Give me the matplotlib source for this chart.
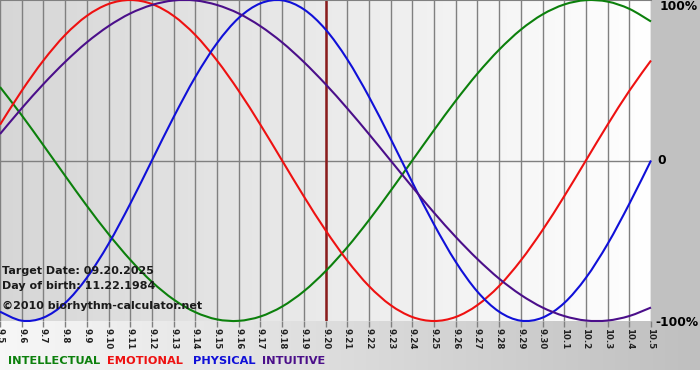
import matplotlib
matplotlib.use("Agg")
import matplotlib.pyplot as plt
from matplotlib.path import Path
from matplotlib.patches import PathPatch
import numpy as np

# day labels, Sept 5 .. Oct 5
days = ["9.%d" % d for d in range(5, 31)] + ["10.%d" % d for d in range(1, 6)]

# curve values read per day (-1 .. 1)
intellectual = [0.458, 0.282, 0.095, -0.095, -0.282, -0.458, -0.618, -0.756, -0.866, -0.945,
                -0.990, -0.999, -0.972, -0.910, -0.815, -0.690, -0.541, -0.372, -0.189, 0.0,
                0.189, 0.372, 0.541, 0.690, 0.815, 0.910, 0.972, 0.999, 0.990, 0.945, 0.866]
emotional = [0.223, 0.434, 0.623, 0.782, 0.901, 0.975, 1.0, 0.975, 0.901, 0.782,
             0.623, 0.434, 0.223, 0.0, -0.223, -0.434, -0.623, -0.782, -0.901, -0.975,
             -1.0, -0.975, -0.901, -0.782, -0.623, -0.434, -0.223, 0.0, 0.223, 0.434, 0.623]
physical = [-0.942, -0.998, -0.979, -0.888, -0.731, -0.520, -0.270, 0.0, 0.270, 0.520,
            0.731, 0.888, 0.979, 0.998, 0.942, 0.817, 0.631, 0.398, 0.136, -0.136,
            -0.398, -0.631, -0.817, -0.942, -0.998, -0.979, -0.888, -0.731, -0.520, -0.270, 0.0]
intuitive = [0.165, 0.325, 0.476, 0.614, 0.736, 0.837, 0.916, 0.969, 0.997, 0.997,
             0.969, 0.916, 0.837, 0.736, 0.614, 0.476, 0.325, 0.165, 0.0, -0.165,
             -0.325, -0.476, -0.614, -0.736, -0.837, -0.916, -0.969, -0.997, -0.997, -0.969, -0.916]
target_day = "9.20"

series = [("INTELLECTUAL", intellectual, "#0c800c"),
          ("EMOTIONAL", emotional, "#ee1111"),
          ("PHYSICAL", physical, "#1010d8"),
          ("INTUITIVE", intuitive, "#4b0f8a")]


def smooth_path(xs, ys):
    # catmull-rom segments drawn as cubic bezier through the daily points
    pts = np.column_stack([xs, ys]).astype(float)
    verts = [pts[0]]
    codes = [Path.MOVETO]
    n = len(pts)
    for i in range(n - 1):
        p0 = pts[max(i - 1, 0)]
        p1 = pts[i]
        p2 = pts[i + 1]
        p3 = pts[min(i + 2, n - 1)]
        verts += [p1 + (p2 - p0) / 6, p2 - (p3 - p1) / 6, p2]
        codes += [Path.CURVE4] * 3
    return Path(verts, codes)


W, H = 700, 380
fig = plt.figure(figsize=(W / 100, H / 100), dpi=100)

# background: gradients like the original image
bg = np.ones((H, W))
pl_r, pl_b = 651, 321
bg[:pl_b, :pl_r] = np.linspace(0.84, 1.0, pl_r)[None, :]
bg[:pl_b, pl_r:] = 0.76
bg[pl_b:370, :] = np.linspace(0.97, 0.75, W)[None, :]
bax = fig.add_axes([0, 0, 1, 1])
bax.imshow(np.dstack([bg] * 3), aspect="auto", interpolation="bilinear")
bax.axis("off")

ax = fig.add_axes([0, 1 - pl_b / H, pl_r / W, pl_b / H])
ax.patch.set_alpha(0)
x = np.arange(len(days))
ax.set_xlim(0, len(days) - 1)
ax.set_ylim(-1, 1)
ax.set_xticks(x)
ax.set_xticklabels(days, rotation=-90, fontsize=6.2, fontweight="bold", color="#222222")
ax.tick_params(axis="x", length=4, width=1, color="#808080", pad=1)
ax.set_yticks([])
ax.grid(axis="x", color="#808080", lw=1)
ax.axhline(0, color="#808080", lw=1)
for s in ["left", "right", "bottom"]:
    ax.spines[s].set_visible(False)
ax.spines["top"].set_color("#808080")

ax.axvline(days.index(target_day), color="#8b1c1c", lw=1.8, zorder=2)

for name, vals, col in series:
    ax.add_patch(PathPatch(smooth_path(x, vals), facecolor="none", edgecolor=col,
                           lw=1.5, zorder=3, clip_on=False))

# left notes
for txt, yy in [("Target Date: 09.20.2025", 271), ("Day of birth: 11.22.1984", 286),
                ("\u00a92010 biorhythm-calculator.net", 306)]:
    fig.text(2 / W, 1 - yy / H, txt, fontsize=8, fontweight="bold", color="#1a1a1a", va="center")

# right labels
fig.text(698 / W, 1 - 7 / H, "100%", fontsize=8.8, fontweight="bold", ha="right", va="center")
fig.text(657 / W, 1 - 161 / H, "0", fontsize=8.8, fontweight="bold", ha="left", va="center")
fig.text(698 / W, 1 - 322 / H, "-100%", fontsize=8.8, fontweight="bold", ha="right", va="center")

# legend
for (name, vals, col), xx in zip(series, [8, 107, 193, 262]):
    fig.text(xx / W, 1 - 361 / H, name, fontsize=8.2, fontweight="bold", color=col, va="center")

fig.savefig("out.png", dpi=100)
